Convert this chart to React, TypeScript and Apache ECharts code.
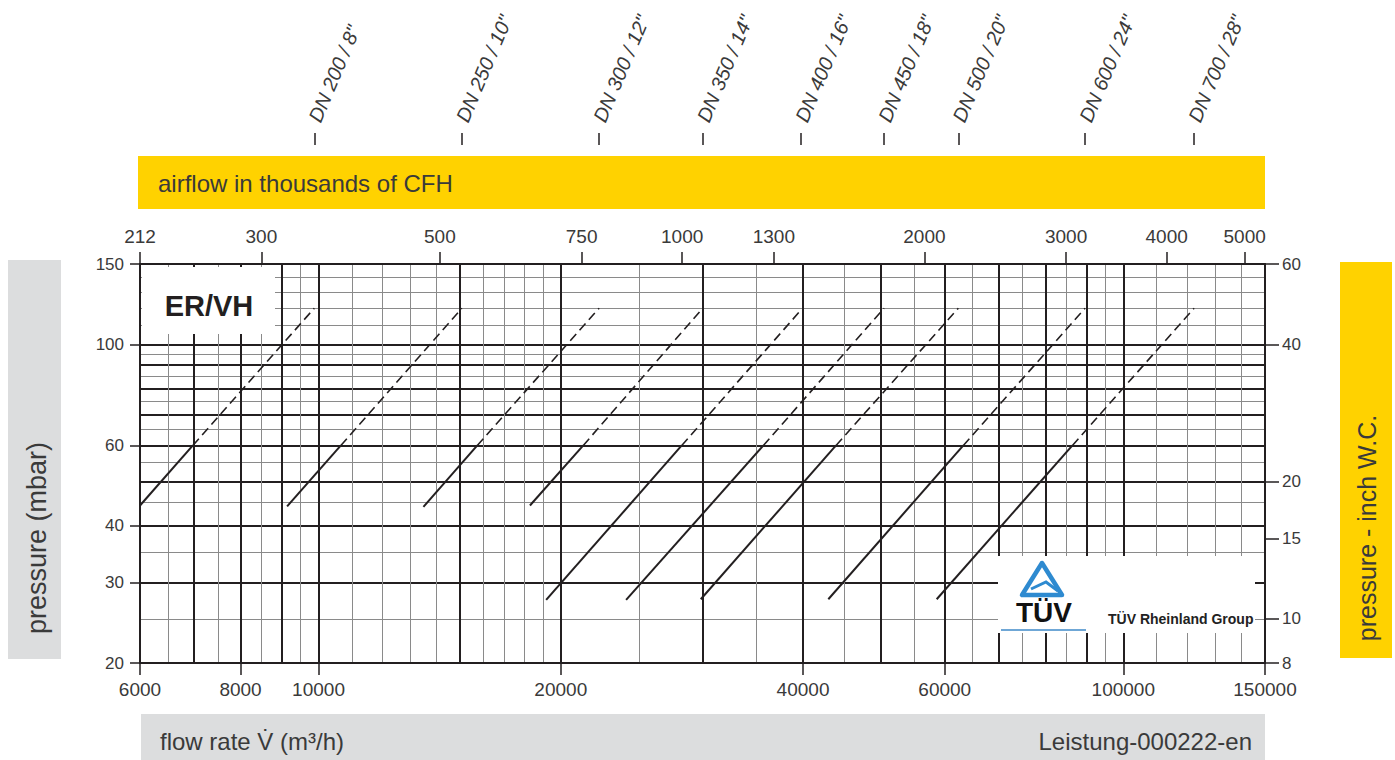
import React, { useEffect, useRef } from 'react';
import * as echarts from 'echarts';

// ---------- data ----------
const dnLabels = ['DN 200 / 8"', 'DN 250 / 10"', 'DN 300 / 12"', 'DN 350 / 14"', 'DN 400 / 16"', 'DN 450 / 18"', 'DN 500 / 20"', 'DN 600 / 24"', 'DN 700 / 28"'];
// flow rate (m³/h) where each curve starts (lower end of solid part)
const startFlow = [6000, 9140, 13500, 18310, 19180, 24110, 29850, 43000, 58630];
// pressure (mbar) at the start of each curve
const startPressure = [44.3, 44.1, 44, 44.3, 27.5, 27.5, 27.6, 27.6, 27.6];
// pressure where solid part turns dashed
const dashStartPressure = 60;
// flow rate at which each curve reaches 60 mbar
const flowAt60 = [6980, 10660, 15750, 21330, 28270, 35710, 43960, 63280, 86460];
// end of the dashed part
const endFlow = [9880, 15070, 22320, 30020, 39780, 50440, 62380, 89650, 122460];
const endPressure = [120, 120, 120, 120, 119, 120, 120, 120, 120];

// axis ticks / labels
const flowTicks = [6000, 8000, 10000, 20000, 40000, 60000, 100000, 150000];
const cfhTicks = [212, 300, 500, 750, 1000, 1300, 2000, 3000, 4000, 5000];
const mbarTicks = [20, 30, 40, 60, 100, 150];
const inchTicks = [8, 10, 15, 20, 40, 60];

// grid lines
const flowGridThin = [6500, 7500, 8500, 9500, 11000, 12000, 13000, 14000, 16000, 17000, 18000, 19000, 25000, 35000, 45000, 55000, 65000, 75000, 85000, 95000, 110000, 120000, 130000, 140000];
const flowGridThick = [7000, 8000, 9000, 10000, 15000, 20000, 30000, 40000, 50000, 60000, 70000, 80000, 90000, 100000];
const mbarGridThin = [25, 35, 45, 55, 65, 75, 85, 95, 110, 120, 130, 140];
const mbarGridThick = [30, 40, 50, 60, 70, 80, 90, 100];

// axis ranges
const flowRange = [6000, 150000];
const cfhRange = [212, 5300];
const mbarRange = [20, 150];
const inchRange = [8, 60];

const FONT = '"Liberation Sans", Arial, Helvetica, sans-serif';
const INK = '#231f20';
const TEXT = '#3a3a3a';
const YELLOW = '#FFD200';
const GREY = '#DCDDDE';

const fmtInt = (v: number) => String(Math.round(v));

function hiddenGridAxis(range: number[], values: number[], thick: boolean, position: string) {
  return {
    type: 'log',
    logBase: 10,
    min: range[0],
    max: range[1],
    position,
    axisLine: { show: false },
    axisTick: { show: false, customValues: values },
    axisLabel: { show: false },
    minorTick: { show: false },
    minorSplitLine: { show: false },
    splitLine: {
      show: true,
      lineStyle: thick ? { color: INK, width: 2 } : { color: '#8a8a8a', width: 1 },
    },
  };
}

function buildOption() {
  const series: any[] = [];
  dnLabels.forEach((name, i) => {
    series.push({
      type: 'line',
      name,
      xAxisIndex: 0,
      yAxisIndex: 0,
      data: [[startFlow[i], startPressure[i]], [flowAt60[i], dashStartPressure]],
      symbol: 'none',
      silent: true,
      z: 5,
      lineStyle: { color: INK, width: 2, type: 'solid' },
    });
    series.push({
      type: 'line',
      name: name + ' (dashed)',
      xAxisIndex: 0,
      yAxisIndex: 0,
      data: [[flowAt60[i], dashStartPressure], [endFlow[i], endPressure[i]]],
      symbol: 'none',
      silent: true,
      z: 5,
      lineStyle: { color: INK, width: 1.6, type: [9, 5] },
    });
  });

  return {
    animation: false,
    backgroundColor: '#ffffff',
    textStyle: { fontFamily: FONT },
    grid: { left: 140, right: 130, top: 264, bottom: 97, containLabel: false, outerBoundsMode: 'none' },
    xAxis: [
      {
        type: 'log', logBase: 10, min: flowRange[0], max: flowRange[1], position: 'bottom',
        axisLine: { show: true, lineStyle: { color: INK, width: 2 } },
        axisTick: { show: true, customValues: flowTicks, length: 12, lineStyle: { color: INK, width: 1.5 } },
        axisLabel: { show: true, customValues: flowTicks, formatter: fmtInt, fontSize: 19, color: TEXT, margin: 17, fontFamily: FONT, hideOverlap: false },
        splitLine: { show: false }, minorTick: { show: false }, minorSplitLine: { show: false },
      },
      hiddenGridAxis(flowRange, flowGridThin, false, 'bottom'),
      hiddenGridAxis(flowRange, flowGridThick, true, 'bottom'),
      {
        type: 'log', logBase: 10, min: cfhRange[0], max: cfhRange[1], position: 'top',
        axisLine: { show: true, lineStyle: { color: INK, width: 2 } },
        axisTick: { show: true, customValues: cfhTicks, length: 12, lineStyle: { color: INK, width: 1.5 } },
        axisLabel: { show: true, customValues: cfhTicks, formatter: fmtInt, fontSize: 19, color: TEXT, margin: 18, fontFamily: FONT, hideOverlap: false },
        splitLine: { show: false }, minorTick: { show: false }, minorSplitLine: { show: false },
      },
      {
        type: 'log', logBase: 10, min: flowRange[0], max: flowRange[1], position: 'top', offset: 119,
        axisLine: { show: false },
        axisTick: { show: true, customValues: endFlow, length: 12, lineStyle: { color: INK, width: 1.5 } },
        axisLabel: {
          show: true, customValues: endFlow, rotate: -67, margin: 24, fontSize: 20, fontStyle: 'italic',
          color: TEXT, fontFamily: FONT, hideOverlap: false,
          formatter: (v: number) => {
            let best = 0;
            endFlow.forEach((f, i) => { if (Math.abs(f - v) < Math.abs(endFlow[best] - v)) best = i; });
            return dnLabels[best];
          },
        },
        splitLine: { show: false }, minorTick: { show: false }, minorSplitLine: { show: false },
      },
    ],
    yAxis: [
      {
        type: 'log', logBase: 10, min: mbarRange[0], max: mbarRange[1], position: 'left',
        axisLine: { show: true, lineStyle: { color: INK, width: 2 } },
        axisTick: { show: true, customValues: mbarTicks, length: 10, lineStyle: { color: INK, width: 1.5 } },
        axisLabel: { show: true, customValues: mbarTicks, formatter: fmtInt, fontSize: 17, color: TEXT, margin: 16, fontFamily: FONT, hideOverlap: false },
        splitLine: { show: false }, minorTick: { show: false }, minorSplitLine: { show: false },
      },
      hiddenGridAxis(mbarRange, mbarGridThin, false, 'left'),
      hiddenGridAxis(mbarRange, mbarGridThick, true, 'left'),
      {
        type: 'log', logBase: 10, min: inchRange[0], max: inchRange[1], position: 'right',
        axisLine: { show: true, lineStyle: { color: INK, width: 2 } },
        axisTick: { show: true, customValues: inchTicks, length: 14, lineStyle: { color: INK, width: 1.5 } },
        axisLabel: { show: true, customValues: inchTicks, formatter: fmtInt, fontSize: 17, color: TEXT, margin: 17, fontFamily: FONT, hideOverlap: false },
        splitLine: { show: false }, minorTick: { show: false }, minorSplitLine: { show: false },
      },
    ],
    series,
    graphic: [
      // top yellow band
      { type: 'rect', shape: { x: 138, y: 156, width: 1127, height: 53 }, style: { fill: YELLOW }, z: 1 },
      { type: 'text', x: 158, y: 183, style: { text: 'airflow in thousands of CFH', fill: TEXT, font: `24px ${FONT}`, align: 'left', verticalAlign: 'middle' }, z: 2 },
      // left grey band
      { type: 'rect', shape: { x: 8, y: 260, width: 53, height: 399 }, style: { fill: GREY }, z: 1 },
      { type: 'text', x: 37, y: 538, rotation: Math.PI / 2, style: { text: 'pressure (mbar)', fill: TEXT, font: `27px ${FONT}`, align: 'center', verticalAlign: 'middle' }, z: 2 },
      // right yellow band
      { type: 'rect', shape: { x: 1340, y: 262, width: 52, height: 396 }, style: { fill: YELLOW }, z: 1 },
      { type: 'text', x: 1367, y: 528, rotation: Math.PI / 2, style: { text: 'pressure - inch W.C.', fill: TEXT, font: `25px ${FONT}`, align: 'center', verticalAlign: 'middle' }, z: 2 },
      // bottom grey band
      { type: 'rect', shape: { x: 141, y: 714, width: 1124, height: 46 }, style: { fill: GREY }, z: 1 },
      { type: 'text', x: 160, y: 741, style: { text: 'flow rate V\u0307 (m³/h)', fill: TEXT, font: `24px ${FONT}`, align: 'left', verticalAlign: 'middle' }, z: 2 },
      { type: 'text', x: 1252, y: 741, style: { text: 'Leistung-000222-en', fill: TEXT, font: `24px ${FONT}`, align: 'right', verticalAlign: 'middle' }, z: 2 },
      // ER/VH box
      { type: 'rect', shape: { x: 142, y: 267, width: 133, height: 67 }, style: { fill: '#ffffff' }, z: 50 },
      { type: 'text', x: 209, y: 306, style: { text: 'ER/VH', fill: INK, font: `bold 29px ${FONT}`, align: 'center', verticalAlign: 'middle' }, z: 51 },
      // TÜV box
      { type: 'rect', shape: { x: 998, y: 556, width: 257, height: 77 }, style: { fill: '#ffffff' }, z: 50 },
      { type: 'polygon', shape: { points: [[1042, 563], [1022, 595], [1062, 595]] }, style: { fill: 'none', stroke: '#2e8ad0', lineWidth: 4.5, lineJoin: 'round' }, z: 51 },
      { type: 'polyline', shape: { points: [[1031, 589], [1046, 582], [1058, 591]] }, style: { fill: 'none', stroke: '#2e8ad0', lineWidth: 3 }, z: 51 },
      { type: 'text', x: 1044, y: 612, style: { text: 'TÜV', fill: '#111111', font: `bold 28px ${FONT}`, align: 'center', verticalAlign: 'middle' }, z: 51 },
      { type: 'line', shape: { x1: 1001, y1: 630, x2: 1086, y2: 630 }, style: { stroke: '#6fa7d6', lineWidth: 2 }, z: 51 },
      { type: 'text', x: 1108, y: 619, style: { text: 'TÜV Rheinland Group', fill: '#222222', font: `bold 14px ${FONT}`, align: 'left', verticalAlign: 'middle' }, z: 51 },
    ],
  };
}

export default function App() {
  const ref = useRef<HTMLDivElement>(null);
  useEffect(() => {
    if (!ref.current) return;
    const chart = echarts.init(ref.current, null, { renderer: 'svg' });
    chart.setOption(buildOption() as any);
    return () => chart.dispose();
  }, []);
  return (
    <div
      ref={ref}
      style={{ position: 'absolute', left: 0, top: 0, width: 1395, height: 760, background: '#ffffff' }}
    />
  );
}
